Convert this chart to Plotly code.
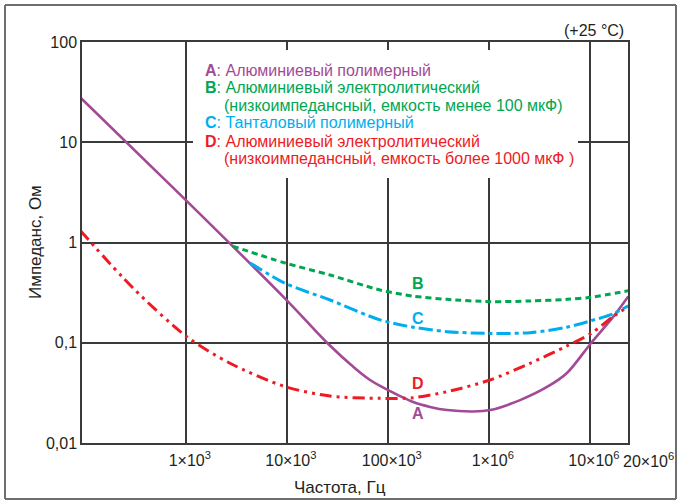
import plotly.graph_objects as go

# ---- data ----
freq_A = [90, 1e3, 1e4, 2.5e4, 4.95e4, 6.67e4, 8.38e4, 1.32e5, 1.78e5, 2.62e5, 3.86e5,
          6.98e5, 1.03e6, 2.04e6, 3.77e6, 5.94e6, 1.03e7, 1.70e7, 2.4e7]
imp_A = [28.0, 2.65, 0.265, 0.1, 0.0535, 0.0425, 0.0371, 0.0294, 0.0256, 0.0229, 0.0213,
         0.0206, 0.0213, 0.0268, 0.0362, 0.0499, 0.0995, 0.181, 0.29]

freq_B = [2.9e3, 9.6e3, 2.68e4, 8.38e4, 1.78e5, 3.86e5, 1.03e6, 2.56e6, 5.94e6, 1.03e7, 2.4e7]
imp_B = [0.92, 0.625, 0.474, 0.336, 0.292, 0.271, 0.257, 0.261, 0.271, 0.284, 0.33]

freq_C = [4.33e3, 9.6e3, 2.68e4, 8.38e4, 1.78e5, 3.86e5, 1.03e6, 2.56e6, 5.94e6, 1.03e7,
          1.70e7, 2.4e7]
imp_C = [0.625, 0.392, 0.267, 0.169, 0.143, 0.129, 0.124, 0.126, 0.143, 0.166, 0.194, 0.233]

freq_D = [90, 302, 1.02e3, 2.74e3, 9.6e3, 2.68e4, 8.38e4, 1.78e5, 3.86e5, 1.03e6, 2.56e6,
          5.94e6, 1.03e7, 1.70e7, 2.4e7]
imp_D = [1.32, 0.349, 0.115, 0.0624, 0.0365, 0.0294, 0.0279, 0.0283, 0.0325, 0.0425, 0.0624,
         0.0929, 0.124, 0.182, 0.229]

x_tickvals = [1e3, 1e4, 1e5, 1e6, 1e7]
x_ticktext = ["1×10<sup>3</sup>", "10×10<sup>3</sup>", "100×10<sup>3</sup>",
              "1×10<sup>6</sup>", "10×10<sup>6</sup>"]
x_last_label = "20×10<sup>6</sup>"
y_tickvals = [0.01, 0.1, 1, 10, 100]
y_ticktext = ["0,01", "0,1", "1", "10", "100"]

legend_lines = [
    ("A", ": Алюминиевый полимерный", None),
    ("B", ": Алюминиевый электролитический", None),
    (None, "(низкоимпедансный, емкость менее 100 мкФ)", "B"),
    ("C", ": Танталовый полимерный", None),
    ("D", ": Алюминиевый электролитический", None),
    (None, "(низкоимпедансный, емкость более 1000 мкФ )", "D"),
]

# ---- styling ----
COL = {"A": "#A24A96", "B": "#00A651", "C": "#00AEEF", "D": "#ED1C24"}
FONT = "Arial, 'Liberation Sans', Helvetica, sans-serif"
GRID = "#3a3a3a"
TXT = "#231F20"

fig = go.Figure()
fig.add_trace(go.Scatter(x=freq_A, y=imp_A, mode="lines",
                         line=dict(color=COL["A"], width=2.6, shape="spline", smoothing=0.8)))
fig.add_trace(go.Scatter(x=freq_B, y=imp_B, mode="lines",
                         line=dict(color=COL["B"], width=3, dash="6px,4px", shape="spline", smoothing=0.8)))
fig.add_trace(go.Scatter(x=freq_C, y=imp_C, mode="lines",
                         line=dict(color=COL["C"], width=3, dash="14px,4px,4px,4px", shape="spline", smoothing=0.8)))
fig.add_trace(go.Scatter(x=freq_D, y=imp_D, mode="lines",
                         line=dict(color=COL["D"], width=3, dash="12px,5px,3px,5px,3px,5px", shape="spline", smoothing=0.8)))

W, H = 682, 504
L, R, T, B = 82, 54, 42, 61
PW, PH = W - L - R, H - T - B


def px(x):
    return (x - L) / PW


def py(y):
    return (H - B - y) / PH


fig.update_layout(
    width=W, height=H,
    margin=dict(l=L, r=R, t=T, b=B),
    paper_bgcolor="white", plot_bgcolor="white",
    showlegend=False,
    font=dict(family=FONT, color=TXT, size=15),
)
fig.update_xaxes(type="log", range=[1.972, 7.378],
                 tickvals=x_tickvals, ticktext=x_ticktext,
                 showgrid=True, gridcolor=GRID, gridwidth=1.5,
                 showline=True, linecolor=GRID, linewidth=1.5, mirror=True,
                 ticks="", zeroline=False, ticklabelshift=4, ticklabelstandoff=2,
                 tickfont=dict(size=16, family=FONT, color=TXT))
fig.update_yaxes(type="log", range=[-2, 2],
                 tickvals=y_tickvals, ticktext=y_ticktext,
                 showgrid=True, gridcolor=GRID, gridwidth=1.5,
                 showline=True, linecolor=GRID, linewidth=1.5, mirror=True,
                 ticks="", zeroline=False,
                 tickfont=dict(size=16, family=FONT, color=TXT))

FR = "#6d6e71"
fx0, fx1, fy0, fy1 = px(5), px(676), py(499), py(5)
shapes = [
    # white box behind legend text (hides grid)
    dict(type="rect", xref="paper", yref="paper", x0=px(193), x1=px(578), y0=py(178), y1=py(50),
         fillcolor="white", line=dict(width=0), layer="above"),
    # outer frame as four lines
    dict(type="line", xref="paper", yref="paper", x0=fx0, x1=fx1, y0=fy1, y1=fy1, line=dict(color=FR, width=2)),
    dict(type="line", xref="paper", yref="paper", x0=fx0, x1=fx1, y0=fy0, y1=fy0, line=dict(color=FR, width=2)),
    dict(type="line", xref="paper", yref="paper", x0=fx0, x1=fx0, y0=fy0, y1=fy1, line=dict(color=FR, width=2)),
    dict(type="line", xref="paper", yref="paper", x0=fx1, x1=fx1, y0=fy0, y1=fy1, line=dict(color=FR, width=2)),
]
fig.update_layout(shapes=shapes)

ann = []
ys = [70, 88, 105, 123, 141, 158]
for (letter, text, cont), yy in zip(legend_lines, ys):
    if letter:
        t = f"<b>{letter}</b>{text}"
        col = COL[letter]
        xx = 203
    else:
        t = text
        col = COL[cont]
        xx = 222
    ann.append(dict(x=px(xx), y=py(yy), xref="paper", yref="paper", text=t, showarrow=False,
                    xanchor="left", yanchor="middle", font=dict(size=16, color=col, family=FONT)))

for letter, (xx, yy) in {"B": (418, 283), "C": (418, 318), "D": (418, 383), "A": (418, 413)}.items():
    ann.append(dict(x=px(xx), y=py(yy), xref="paper", yref="paper", text=f"<b>{letter}</b>",
                    showarrow=False, xanchor="center", yanchor="middle",
                    font=dict(size=16, color=COL[letter], family=FONT)))

ann.append(dict(x=px(626), y=py(30), xref="paper", yref="paper", text="(+25 °C)", showarrow=False,
                xanchor="right", yanchor="middle", font=dict(size=16, color=TXT, family=FONT)))
ann.append(dict(x=px(648), y=py(460), xref="paper", yref="paper", text=x_last_label, showarrow=False,
                xanchor="center", yanchor="middle", font=dict(size=16, color=TXT, family=FONT)))
ann.append(dict(x=px(340), y=py(487), xref="paper", yref="paper", text="Частота, Гц", showarrow=False,
                xanchor="center", yanchor="middle", font=dict(size=17, color=TXT, family=FONT)))
ann.append(dict(x=px(35), y=py(242), xref="paper", yref="paper", text="Импеданс, Ом", showarrow=False,
                textangle=-90, xanchor="center", yanchor="middle",
                font=dict(size=17, color=TXT, family=FONT)))
fig.update_layout(annotations=ann)

fig.write_html("out.html", config={"displayModeBar": False},
               post_script="document.body.style.margin='0px';")
